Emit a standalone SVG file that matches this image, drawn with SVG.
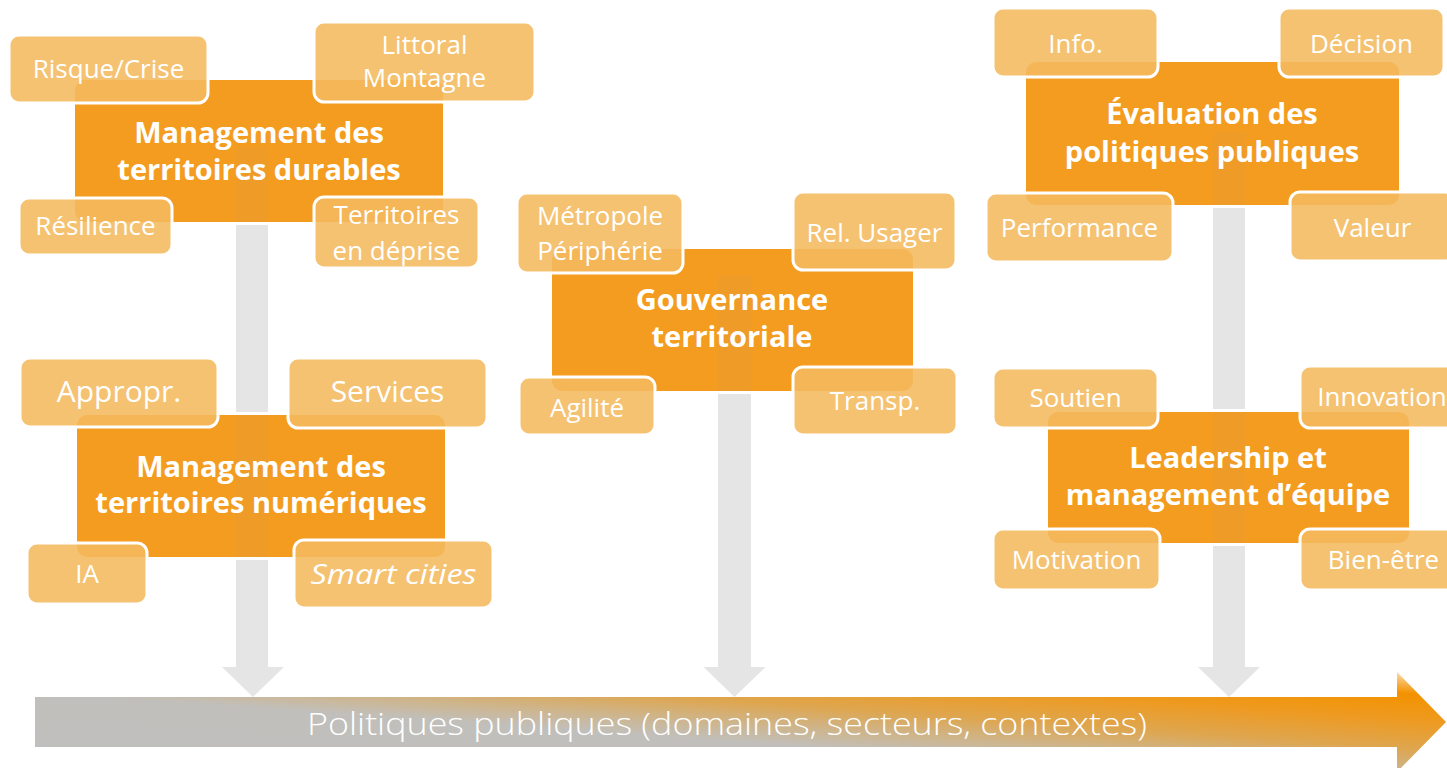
<svg xmlns="http://www.w3.org/2000/svg" width="1447" height="768" viewBox="0 0 1447 768">
<defs>
<linearGradient id="bar" x1="0" y1="1" x2="1" y2="0">
<stop offset="0" stop-color="#BFBFBF"/>
<stop offset="0.40" stop-color="#C1BFBB"/>
<stop offset="0.50" stop-color="#CFB488"/>
<stop offset="0.60" stop-color="#DEA650"/>
<stop offset="0.75" stop-color="#EE9A20"/>
<stop offset="0.88" stop-color="#F39200"/>
<stop offset="1" stop-color="#FCE6C4"/>
</linearGradient>
<style>
.core{fill:#F39C1F;stroke:#FFFFFF;stroke-width:6;paint-order:stroke}
.sat{fill:#F4B95F;fill-opacity:0.88;stroke:#FFFFFF;stroke-width:3}
.band{fill:#A8A8A8;opacity:0.06}
.shaft{fill:#E5E5E5}
.t{font-family:"Open Sans","Noto Sans","DejaVu Sans",sans-serif;fill:#FFFFFF;text-anchor:middle}
.title{font-size:29px;font-weight:bold}
.lbl{font-size:26px}
.big{font-size:30px}
.it{font-size:28px;font-style:italic}
.bar{font-size:32px;font-weight:300}
</style>
</defs>
<rect width="1447" height="768" fill="#FFFFFF"/>

<g id="connectors">
<rect class="shaft" x="236" y="222" width="32" height="446"/>
<polygon class="shaft" points="222,667 284,667 253,697"/>
<rect class="shaft" x="718" y="391" width="33" height="277"/>
<polygon class="shaft" points="703.5,667 765.5,667 734.5,697"/>
<rect class="shaft" x="1213" y="205" width="32" height="463"/>
<polygon class="shaft" points="1198,667 1260,667 1229,697"/>
<path d="M35,697 H1397 V672 L1446,722 L1397,772 V747 H35 Z" fill="url(#bar)"/>
<text class="t bar" x="727" y="735" textLength="840" lengthAdjust="spacingAndGlyphs">Politiques publiques (domaines, secteurs, contextes)</text>
</g>

<g id="node-durables">
<rect class="core" x="75" y="80" width="368" height="142" rx="10"/>
<rect class="band" x="236" y="147" width="32" height="75"/>
<text class="t title" x="259" y="143">Management des</text>
<text class="t title" x="259" y="180">territoires durables</text>
<rect class="sat" x="9" y="35" width="199" height="68" rx="10"/>
<text class="t lbl" x="108.5" y="78">Risque/Crise</text>
<rect class="sat" x="314" y="22" width="221" height="80" rx="10"/>
<text class="t lbl" x="424.5" y="54">Littoral</text>
<text class="t lbl" x="424.5" y="87">Montagne</text>
<rect class="sat" x="19" y="198" width="153" height="57" rx="10"/>
<text class="t lbl" x="95.5" y="235">Résilience</text>
<rect class="sat" x="314" y="197" width="165" height="71" rx="10"/>
<text class="t lbl" x="396.5" y="224">Territoires</text>
<text class="t lbl" x="396.5" y="260">en déprise</text>
</g>

<g id="node-numeriques">
<rect class="core" x="77" y="415" width="368" height="142" rx="10"/>
<rect class="band" x="236" y="415" width="32" height="142"/>
<text class="t title" x="261" y="477">Management des</text>
<text class="t title" x="261" y="513">territoires numériques</text>
<rect class="sat" x="20" y="358" width="198" height="69" rx="10"/>
<text class="t big" x="119" y="402">Appropr.</text>
<rect class="sat" x="288" y="358" width="199" height="70" rx="10"/>
<text class="t big" x="387.5" y="402">Services</text>
<rect class="sat" x="27" y="543" width="120" height="61" rx="10"/>
<text class="t lbl" x="87" y="583">IA</text>
<rect class="sat" x="294" y="540" width="199" height="68" rx="10"/>
<text class="t it" x="393.5" y="584" textLength="166" lengthAdjust="spacingAndGlyphs">Smart cities</text>
</g>

<g id="node-gouvernance">
<rect class="core" x="552" y="249" width="361" height="142" rx="10"/>
<rect class="band" x="718" y="275" width="33" height="116"/>
<text class="t title" x="732" y="310">Gouvernance</text>
<text class="t title" x="732" y="347">territoriale</text>
<rect class="sat" x="517" y="193" width="166" height="80" rx="10"/>
<text class="t lbl" x="600" y="225">Métropole</text>
<text class="t lbl" x="600" y="260">Périphérie</text>
<rect class="sat" x="793" y="192" width="163" height="78" rx="10"/>
<text class="t lbl" x="874.5" y="242">Rel. Usager</text>
<rect class="sat" x="519" y="377" width="136" height="58" rx="10"/>
<text class="t lbl" x="587" y="417">Agilité</text>
<rect class="sat" x="793" y="367" width="164" height="68" rx="10"/>
<text class="t lbl" x="875" y="410">Transp.</text>
</g>

<g id="node-evaluation">
<rect class="core" x="1026" y="62" width="373" height="143" rx="10"/>
<rect class="band" x="1213" y="132" width="32" height="73"/>
<text class="t title" x="1212" y="124">Évaluation des</text>
<text class="t title" x="1212" y="162">politiques publiques</text>
<rect class="sat" x="993" y="8" width="165" height="69" rx="10"/>
<text class="t lbl" x="1075.5" y="53">Info.</text>
<rect class="sat" x="1279" y="8" width="165" height="69" rx="10"/>
<text class="t lbl" x="1361.5" y="53">Décision</text>
<rect class="sat" x="986" y="193" width="187" height="69" rx="10"/>
<text class="t lbl" x="1079.5" y="237">Performance</text>
<rect class="sat" x="1290" y="192" width="165" height="69" rx="10"/>
<text class="t lbl" x="1372.5" y="237">Valeur</text>
</g>

<g id="node-leadership">
<rect class="core" x="1048" y="412" width="361" height="131" rx="10"/>
<rect class="band" x="1213" y="412" width="32" height="131"/>
<text class="t title" x="1228" y="468">Leadership et</text>
<text class="t title" x="1228" y="505">management d’équipe</text>
<rect class="sat" x="993" y="368" width="165" height="60" rx="10"/>
<text class="t lbl" x="1075.5" y="407">Soutien</text>
<rect class="sat" x="1300" y="366" width="165" height="62" rx="10"/>
<text class="t lbl" x="1382" y="406">Innovation</text>
<rect class="sat" x="993" y="529" width="167" height="61" rx="10"/>
<text class="t lbl" x="1076.5" y="569">Motivation</text>
<rect class="sat" x="1300" y="529" width="165" height="61" rx="10"/>
<text class="t lbl" x="1383.5" y="569">Bien-être</text>
</g>
</svg>
